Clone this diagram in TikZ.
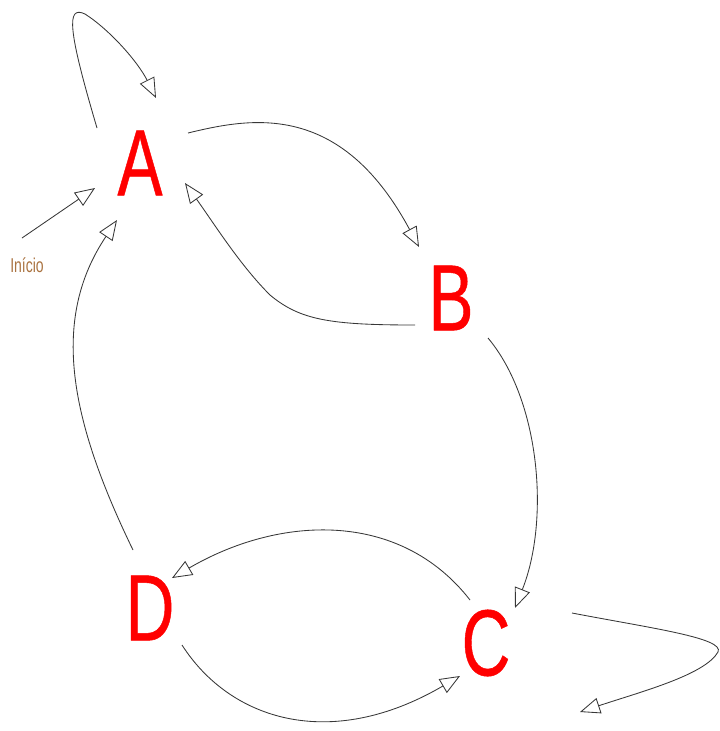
\documentclass[tikz,border=0pt]{standalone}
\usepackage{fontspec}
\setmainfont{Liberation Sans}
\newfontfamily\statefont[FakeBold=0.6]{Liberation Sans}
\usetikzlibrary{arrows.meta,calc}
\definecolor{statered}{RGB}{255,0,0}
\definecolor{labelbrown}{RGB}{170,115,65}
\definecolor{edgegray}{RGB}{55,55,55}
\tikzset{
  statelbl/.style={inner sep=0pt, text=statered, font=\statefont\fontsize{94}{94}\selectfont},
  startlbl/.style={inner sep=0pt, text=labelbrown, font=\fontsize{20}{20}\selectfont},
  edge/.style={draw=edgegray, line width=0.85pt,
    -{Triangle[open, length=20pt, width=16pt]}}
}
\begin{document}
\begin{tikzpicture}[x=1pt,y=-1pt]
\useasboundingbox (0,0) rectangle (720,731);
% states
\node[statelbl] (A) at (140,163) {\scalebox{0.72}[1]{A}};
\node[statelbl] (B) at (451,298) {\scalebox{0.72}[1]{B}};
\node[statelbl] (C) at (486,643) {\scalebox{0.72}[1]{C}};
\node[statelbl] (D) at (150,608) {\scalebox{0.72}[1]{D}};
\node[startlbl] (inicio) at (27,265) {\scalebox{0.7}[1]{Início}};
\coordinate (start) at (22,238);
% initial arrow
\draw[edge] (start) -- ($(A)+(-45,25)$);
% A self loop
\draw[edge] ($(A)+(-43,-35)$) .. controls (68,30) and (66,5) .. (85,14)
   .. controls (110,30) and (138,62) .. ($(A)+(16,-65)$);
% A -> B
\draw[edge] ($(A)+(48,-30)$) .. controls (250,118) and (340,100) .. ($(B)+(-32,-51)$);
% B -> A
\draw[edge] ($(B)+(-36,27)$) .. controls (330,325) and (300,320) .. (270,295)
   .. controls (240,265) and (215,225) .. ($(A)+(45,20)$);
% B -> C
\draw[edge] ($(B)+(37,40)$) .. controls (540,400) and (550,520) .. ($(C)+(29,-35)$);
% C -> D
\draw[edge] ($(C)+(-16,-43)$) .. controls (400,510) and (280,515) .. ($(D)+(22,-30)$);
% D -> C
\draw[edge] ($(D)+(32,37)$) .. controls (230,720) and (330,752) .. ($(C)+(-26,33)$);
% D -> A
\draw[edge] ($(D)+(-17,-58)$) .. controls (70,420) and (50,320) .. ($(A)+(-23,57)$);
% C self loop
\draw[edge] ($(C)+(86,-30)$) .. controls (650,628) and (725,638) .. (718,652)
   .. controls (705,675) and (640,692) .. ($(C)+(94,69)$);
\end{tikzpicture}
\end{document}
